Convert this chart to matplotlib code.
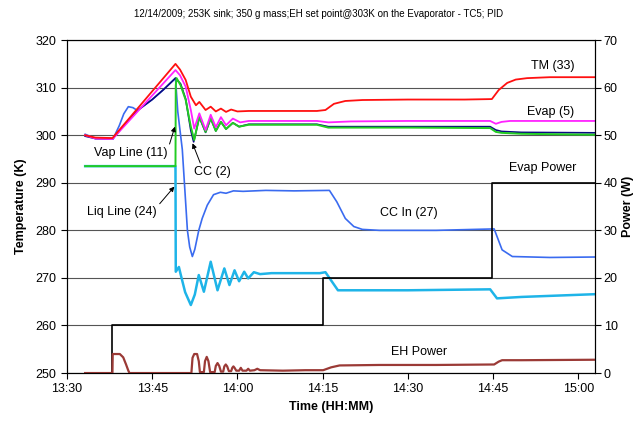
# Recreate the TC5/PID loop heat pipe test chart (temperatures + power vs time)

import matplotlib
matplotlib.use("Agg")
import matplotlib.pyplot as plt

plt.rcParams['font.family'] = ['Liberation Sans', 'DejaVu Sans']

# time in minutes after 13:30
tick_pos = [0, 15, 30, 45, 60, 75, 90]
tick_labels = ["13:30", "13:45", "14:00", "14:15", "14:30", "14:45", "15:00"]

# TM (33)
tm_t = [3.2, 5, 8.0, 19.1, 19.9, 20.9, 21.8, 22.7, 23.3, 24.4, 25.3, 26.2, 27.1, 28.0, 28.9, 30,
        32, 44, 45.5, 47, 49, 52, 60, 70, 74.8, 76, 77.5, 79, 81, 85, 93.4]
tm_v = [300, 299.5, 299.4, 315.0, 313.8, 311.6, 308.1, 306.3, 307.0, 305.3, 306.0, 305.0, 305.6,
        304.9, 305.4, 305.0, 305.1, 305.1, 305.3, 306.6, 307.2, 307.4, 307.5, 307.5, 307.6, 309.5,
        311.0, 311.7, 312.0, 312.2, 312.2]

# Evap (5)
ev_t = [3.2, 5, 8.0, 19.1, 19.9, 20.9, 21.8, 22.4, 23.3, 24.4, 25.3, 26.2, 27.1, 28.0, 29.2, 30.5,
        32, 44, 46, 50, 60, 74.5, 75.5, 76.5, 78, 93.4]
ev_v = [300, 299.3, 299.2, 313.7, 312.6, 310.2, 305.3, 301.4, 304.6, 301.1, 304.3, 301.7, 303.8,
        302.1, 303.5, 302.7, 303.0, 303.0, 302.7, 302.9, 303.0, 303.0, 302.4, 302.8, 303.0, 303.0]

# CC (2)
cc_t = [3.2, 5, 8.1, 10, 12.4, 15, 17, 19.1, 20.0, 20.9, 21.8, 22.3, 23.3, 24.4, 25.3, 26.2, 27.1,
        28.0, 29.2, 30.3, 32, 44, 46, 50, 60, 74.5, 75.5, 76.5, 80, 93.4]
cc_v = [299.8, 299.3, 299.3, 302.0, 305.2, 307.5, 309.6, 312.0, 310.8, 307.6, 301.0, 298.6, 303.8,
        300.6, 303.5, 300.9, 302.8, 301.3, 302.6, 301.8, 302.3, 302.3, 301.8, 301.8, 301.8, 301.8,
        301.1, 300.8, 300.6, 300.5]

# Vap Line (11)
vap_t = [3.2, 10, 19.1, 19.15, 19.3, 20.0, 20.9, 21.8, 22.4, 23.3, 24.4, 25.3, 26.2, 27.1, 28.0,
         29.2, 30.3, 32, 44, 46, 50, 60, 74.5, 75.5, 76.5, 80, 93.4]
vap_v = [293.5, 293.5, 293.5, 310.5, 312.0, 310.5, 307.4, 301.8, 299.0, 303.9, 300.7, 303.6, 300.9,
         302.8, 301.3, 302.6, 301.8, 302.2, 302.2, 301.6, 301.6, 301.6, 301.5, 300.7, 300.5, 300.3,
         300.1]

# CC In (27)
ccin_t = [3.2, 5, 8.1, 9.2, 10, 10.8, 11.6, 12.4, 15, 17, 19.1, 19.5, 20.3, 21.2, 21.6, 22.07,
          22.5, 23.2, 23.8, 24.7, 25.8, 27, 28, 29.3, 31, 35, 40, 46.2, 47.5, 49, 50.5, 52, 55,
          65, 75.2, 76.6, 78.4, 85, 93.4]
ccin_v = [300.2, 299.3, 299.2, 302.0, 304.5, 306.0, 305.8, 305.2, 307.5, 309.6, 312.0, 305.0, 297.0,
          280.0, 276.5, 274.5, 276.0, 280.0, 282.5, 285.3, 287.5, 288.0, 287.8, 288.3, 288.2, 288.4,
          288.3, 288.4, 286.0, 282.5, 280.8, 280.2, 280.0, 280.0, 280.3, 275.9, 274.5, 274.3, 274.4]

# Liq Line (24)
liq_t = [3.2, 10, 19.1, 19.15, 19.7, 20.0, 20.8, 21.8, 22.5, 23.2, 24.1, 25.3, 26.5, 27.7, 28.6,
         29.5, 30.3, 31.2, 31.9, 32.9, 34, 36, 44.5, 45.5, 47.7, 60, 74.5, 75.7, 80, 93.4]
liq_v = [293.5, 293.5, 293.5, 271.3, 272.3, 270.8, 267.0, 264.3, 266.5, 270.6, 267.1, 273.4, 267.4,
         272.0, 268.5, 271.6, 269.3, 271.3, 269.9, 271.2, 270.8, 271.0, 271.0, 271.2, 267.4, 267.4,
         267.6, 265.7, 266.0, 266.6]

# Evap Power (W), step changes
evp_t = [3.2, 8.0, 45.1, 74.9, 93.4]
evp_v = [0, 10, 20, 40, 40]

# EH Power (W)
eh_t = [3.2, 8.0, 8.05, 9.3, 9.9, 10.4, 10.8, 11.0, 21.9, 22.1, 22.4, 22.9, 23.2, 23.4, 24.1, 24.3,
        24.6, 24.9, 25.2, 26.0, 26.2, 26.5, 26.8, 27.1, 27.5, 27.7, 27.95, 28.2, 28.5, 28.9, 29.1,
        29.3, 29.5, 29.8, 30.3, 30.6, 30.9, 31.6, 31.9, 32.2, 33, 33.5, 34, 38, 42, 45.1, 46.5, 48,
        55, 65, 75.2, 76.0, 76.6, 80, 93.4]
eh_v = [0, 0, 4.0, 4.0, 3.3, 1.8, 0.5, 0, 0, 3.2, 4.0, 4.0, 2.5, 0.2, 0.2, 2.5, 3.4, 2.5, 0.2, 0.2,
        1.5, 2.1, 1.5, 0.3, 0.3, 1.4, 1.8, 1.4, 0.4, 0.4, 1.1, 1.4, 1.1, 0.5, 0.5, 1.1, 0.5, 0.5,
        0.9, 0.5, 0.6, 0.9, 0.6, 0.5, 0.6, 0.6, 1.2, 1.6, 1.7, 1.7, 1.8, 2.4, 2.7, 2.7, 2.8]

fig = plt.figure(figsize=(6.38, 4.22), dpi=100)
ax = fig.add_axes([0.105, 0.116, 0.828, 0.789])
ax2 = ax.twinx()

ax.set_xlim(0, 93.0)
ax.set_ylim(250, 320)
ax2.set_ylim(0, 70)
ax.set_yticks(range(250, 321, 10))
ax2.set_yticks(range(0, 71, 10))
ax.set_xticks(tick_pos)
ax.set_xticklabels(tick_labels)
ax.yaxis.grid(True, color='#555555', lw=0.8)
ax.set_axisbelow(True)

for a in (ax, ax2):
    a.tick_params(labelsize=9, direction='out', length=4, width=0.8)
    for s in a.spines.values():
        s.set_linewidth(0.8)
ax2.tick_params(pad=2)

ax.plot(liq_t, liq_v, color='#1EB4E8', lw=1.8)
ax.plot(ccin_t, ccin_v, color='#3A6BF0', lw=1.2)
ax.plot(cc_t, cc_v, color='#0A0A80', lw=1.2)
ax.plot(vap_t, vap_v, color='#22CC22', lw=1.4)
ax.plot(ev_t, ev_v, color='#FF22FF', lw=1.3)
ax.plot(tm_t, tm_v, color='#FF1010', lw=1.3)

ax2.plot(evp_t, evp_v, color='black', lw=1.2, drawstyle='steps-post')
ax2.plot(eh_t, eh_v, color='#9B3A36', lw=1.6)

# series labels
fs = 9
ax.text(85.5, 314.5, "TM (33)", fontsize=fs, ha='center', va='center')
ax.text(85.1, 304.8, "Evap (5)", fontsize=fs, ha='center', va='center')
ax.text(83.7, 293.1, "Evap Power", fontsize=fs, ha='center', va='center')
ax.text(60.2, 283.6, "CC In (27)", fontsize=fs, ha='center', va='center')
ax.text(62.0, 254.4, "EH Power", fontsize=fs, ha='center', va='center')
ax.annotate("Vap Line (11)", xy=(19.0, 301.8), xytext=(11.3, 296.3), fontsize=fs,
            ha='center', va='center',
            arrowprops=dict(arrowstyle='-|>', color='black', lw=0.7, mutation_scale=7,
                            shrinkA=0, shrinkB=0, relpos=(1.0, 0.8)))
ax.annotate("CC (2)", xy=(22.1, 298.3), xytext=(25.6, 292.3), fontsize=fs,
            ha='center', va='center',
            arrowprops=dict(arrowstyle='-|>', color='black', lw=0.7, mutation_scale=7,
                            shrinkA=0, shrinkB=0, relpos=(0.2, 1.0)))
ax.annotate("Liq Line (24)", xy=(18.9, 289.2), xytext=(9.7, 283.9), fontsize=fs,
            ha='center', va='center',
            arrowprops=dict(arrowstyle='-|>', color='black', lw=0.7, mutation_scale=7,
                            shrinkA=0, shrinkB=0, relpos=(1.0, 0.9)))

ax.set_xlabel("Time (HH:MM)", fontsize=9, fontweight='bold', labelpad=4)
ax.set_ylabel("Temperature (K)", fontsize=9, fontweight='bold', labelpad=6)
ax2.set_ylabel("Power (W)", fontsize=9, fontweight='bold', labelpad=3)
fig.text(0.5, 0.968, "12/14/2009; 253K sink; 350 g mass;EH set point@303K on the Evaporator - TC5; PID",
         fontsize=7, ha='center', va='center')

fig.savefig("out.png", dpi=100)
plt.close(fig)
